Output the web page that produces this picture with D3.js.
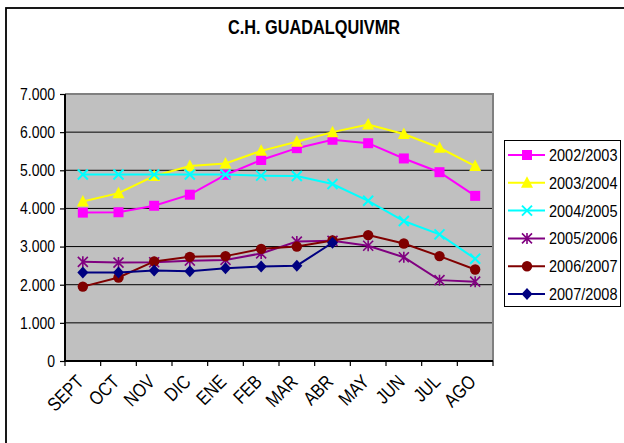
<!DOCTYPE html>
<html><head><meta charset="utf-8">
<script src="https://cdn.jsdelivr.net/npm/d3@7/dist/d3.min.js"></script>
<style>body{margin:0;background:#fff}svg{display:block;font-family:"Liberation Sans",Arial,sans-serif}</style>
</head><body><svg id="c" width="624" height="443"></svg>
<script>
const months = ["SEPT","OCT","NOV","DIC","ENE","FEB","MAR","ABR","MAY","JUN","JUL","AGO"];
const seriesNames = ["2002/2003","2003/2004","2004/2005","2005/2006","2006/2007","2007/2008"];
const s2002 = [3890,3900,4070,4360,4880,5270,5580,5800,5710,5310,4950,4330];
const s2003 = [4180,4400,4850,5110,5180,5510,5750,6000,6200,5950,5590,5110];
const s2004 = [4890,4890,4890,4890,4890,4860,4850,4640,4200,3670,3320,2680];
const s2005 = [2600,2580,2590,2630,2650,2820,3130,3150,3020,2720,2120,2080];
const s2006 = [1950,2190,2610,2730,2750,2940,3000,3160,3300,3080,2750,2400];
const s2007 = [2320,2320,2370,2350,2430,2480,2500,3100,null,null,null,null];
const yTicks = [0,1000,2000,3000,4000,5000,6000,7000];
const colors = ["#FF00FF","#FFFF00","#00FFFF","#800080","#800000","#000080"];
const markers = ["square","triangle","x","star","circle","diamond"];
const allSeries = [s2002,s2003,s2004,s2005,s2006,s2007];

const svg = d3.select("#c");
const L=65,R=493,T=94,B=361;
const x = d3.scaleBand().domain(months).range([L,R]).padding(0);
const y = d3.scaleLinear().domain([0,7000]).range([B,T]);
const cx = d => x(d)+x.bandwidth()/2;

// outer frame
svg.append("rect").attr("x",6).attr("y",8).attr("width",700).attr("height",500)
  .attr("fill","none").attr("stroke","#000").attr("stroke-width",1.8);

// title
svg.append("text").attr("x",228).attr("y",34)
  .attr("font-size",20).attr("font-weight","bold")
  .attr("textLength",172).attr("lengthAdjust","spacingAndGlyphs").text("C.H. GUADALQUIVMR");

// plot area
svg.append("rect").attr("x",L).attr("y",T).attr("width",R-L).attr("height",B-T).attr("fill","#C0C0C0");
// grid
svg.append("g").selectAll("line").data(yTicks.filter(v=>v>0&&v<7000)).join("line")
  .attr("x1",L).attr("x2",R).attr("y1",d=>y(d)).attr("y2",d=>y(d)).attr("stroke","#000").attr("stroke-width",1);
// top & right border
svg.append("path").attr("d",`M${L},${T}H${R}V${B}`).attr("fill","none").attr("stroke","#808080").attr("stroke-width",2);

// y axis
const ya = svg.append("g").attr("transform",`translate(${L},0)`)
  .call(d3.axisLeft(y).tickValues(yTicks).tickSize(5).tickPadding(5)
    .tickFormat(d=> d===0?"0":d3.format(",")(d).replace(/,/g,".")));
ya.select(".domain").attr("stroke","#000").attr("stroke-width",2).attr("d",`M0,${T}V${B}`);
ya.selectAll(".tick line").attr("stroke","#000").attr("stroke-width",1.2);
ya.selectAll("text").attr("font-size",14).attr("fill","#000").attr("font-family","Liberation Sans, Arial, sans-serif")
  .attr("transform","scale(1,1.2)");

// x axis
const xa = svg.append("g").attr("transform",`translate(0,${B})`)
  .call(d3.axisBottom(x).tickSize(0).tickPadding(0));
xa.select(".domain").attr("stroke","#000").attr("stroke-width",2).attr("d",`M${L},0H${R}`);
xa.selectAll(".tick text").attr("font-size",16).attr("fill","#000")
  .attr("font-family","Liberation Sans, Arial, sans-serif")
  .attr("text-anchor","end").attr("dy",0).attr("y",0)
  .attr("transform","translate(2,22) rotate(-45) scale(1,1.2)");
const bounds = months.map(m=>x(m)).concat([R]);
svg.append("g").selectAll("line").data(bounds).join("line")
  .attr("x1",d=>d).attr("x2",d=>d).attr("y1",B).attr("y2",B+5).attr("stroke","#000").attr("stroke-width",1.2);

function drawMarker(g, type, color, px, py){
  if(type==="square") g.append("rect").attr("x",px-5).attr("y",py-5).attr("width",10).attr("height",10).attr("fill",color);
  else if(type==="triangle") g.append("path").attr("d",`M${px},${py-6.5}L${px+6},${py+5}L${px-6},${py+5}Z`).attr("fill",color);
  else if(type==="x") g.append("path").attr("d",`M${px-5},${py-5}L${px+5},${py+5}M${px+5},${py-5}L${px-5},${py+5}`).attr("stroke",color).attr("stroke-width",2);
  else if(type==="star") g.append("path").attr("d",`M${px-5},${py-5}L${px+5},${py+5}M${px+5},${py-5}L${px-5},${py+5}M${px},${py-5.5}V${py+5.5}`).attr("stroke",color).attr("stroke-width",1.6);
  else if(type==="circle") g.append("circle").attr("cx",px).attr("cy",py).attr("r",5.2).attr("fill",color);
  else if(type==="diamond") g.append("path").attr("d",`M${px},${py-6}L${px+5.5},${py}L${px},${py+6}L${px-5.5},${py}Z`).attr("fill",color);
}

const line = d3.line().defined(d=>d.v!=null).x(d=>cx(d.m)).y(d=>y(d.v));
allSeries.forEach((vals,i)=>{
  const data = months.map((m,j)=>({m,v:vals[j]}));
  const g = svg.append("g");
  g.append("path").attr("d",line(data)).attr("fill","none").attr("stroke",colors[i]).attr("stroke-width",2);
  data.filter(d=>d.v!=null).forEach(d=>drawMarker(g,markers[i],colors[i],cx(d.m),y(d.v)));
});

// legend
const lg = svg.append("g");
lg.append("rect").attr("x",504.5).attr("y",140.5).attr("width",116).attr("height",166).attr("fill","#fff").attr("stroke","#000").attr("stroke-width",1);
const ly = d3.scalePoint().domain(seriesNames).range([155,294]);
seriesNames.forEach((n,i)=>{
  const yy = ly(n);
  lg.append("line").attr("x1",508).attr("x2",545).attr("y1",yy).attr("y2",yy).attr("stroke",colors[i]).attr("stroke-width",2);
  drawMarker(lg,markers[i],colors[i],527,yy);
  lg.append("text").attr("transform",`translate(549,${yy+6}) scale(1,1.15)`).attr("font-size",14.5).attr("fill","#000").text(n);
});
</script></body></html>
